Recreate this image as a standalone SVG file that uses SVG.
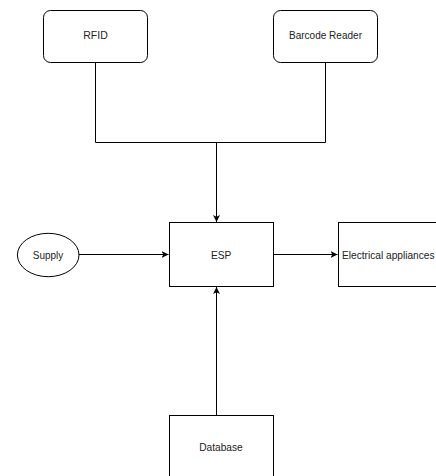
<svg xmlns="http://www.w3.org/2000/svg" width="436" height="476" viewBox="0 0 436 476">
<defs>
<style>
.box{fill:#fff;stroke:#000;stroke-width:1}
.lbl{font-family:"Liberation Sans",Arial,sans-serif;font-size:11px;fill:#222;text-anchor:middle}
.edge{fill:none;stroke:#000;stroke-width:1}
</style>
<marker id="arr" markerWidth="8" markerHeight="8" refX="7" refY="4" orient="auto" markerUnits="userSpaceOnUse">
<path d="M0,0.5 L7,4 L0,7.5 L1.8,4 Z" fill="#000"/>
</marker>
</defs>
<rect width="436" height="476" fill="#fff"/>
<g id="connectors">
<path class="edge" d="M95.5,62 V142.5 H325.5 V62"/>
<path class="edge" d="M216.5,142.5 V222" marker-end="url(#arr)"/>
<path class="edge" d="M79,254.5 H168.5" marker-end="url(#arr)"/>
<path class="edge" d="M273,254.5 H337.5" marker-end="url(#arr)"/>
<path class="edge" d="M216.5,415 V287" marker-end="url(#arr)"/>
</g>
<g id="rfid">
<rect class="box" x="43.5" y="10.5" width="104" height="52" rx="7"/>
<text class="lbl" x="95.5" y="39" textLength="24.5" lengthAdjust="spacingAndGlyphs">RFID</text>
</g>
<g id="barcode">
<rect class="box" x="273.5" y="10.5" width="104" height="52" rx="7"/>
<text class="lbl" x="325.5" y="39" textLength="73" lengthAdjust="spacingAndGlyphs">Barcode Reader</text>
</g>
<g id="supply">
<ellipse class="box" cx="48.2" cy="255" rx="30.8" ry="21.7"/>
<text class="lbl" x="48" y="258.5" textLength="30.5" lengthAdjust="spacingAndGlyphs">Supply</text>
</g>
<g id="esp">
<rect class="box" x="169.5" y="222.5" width="104" height="64"/>
<text class="lbl" x="221.2" y="258.5" textLength="20.5" lengthAdjust="spacingAndGlyphs">ESP</text>
</g>
<g id="appliances">
<rect class="box" x="338.5" y="222.5" width="104" height="64"/>
<text class="lbl" x="388.3" y="258.5" textLength="92.5" lengthAdjust="spacingAndGlyphs">Electrical appliances</text>
</g>
<g id="database">
<rect class="box" x="169.5" y="415.5" width="104" height="64"/>
<text class="lbl" x="221" y="451" textLength="43.5" lengthAdjust="spacingAndGlyphs">Database</text>
</g>
</svg>
